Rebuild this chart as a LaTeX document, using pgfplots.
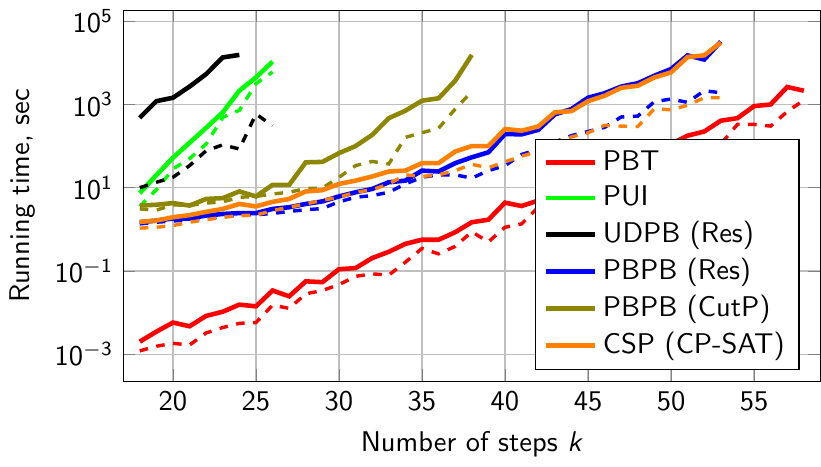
\documentclass[border=0pt]{standalone}
\usepackage{pgfplots}
\pgfplotsset{compat=1.18}
\usepackage{pgfplotstable}

\pgfplotstableread{
x y
18 0.0020
19 0.00347
20 0.00575
21 0.00468
22 0.00832
23 0.01047
24 0.0155
25 0.0141
26 0.0339
27 0.0245
28 0.0562
29 0.0537
30 0.110
31 0.117
32 0.204
33 0.288
34 0.447
35 0.562
36 0.562
37 0.851
38 1.48
39 1.70
40 4.37
41 3.63
42 4.90
43 7.08
44 10
45 15.8
46 22.4
47 35.5
48 50
49 76
50 112
51 178
52 224
53 407
54 468
55 912
56 1000
57 2630
58 2140
}\pbtS
\pgfplotstableread{
x y
18 0.0012
19 0.00155
20 0.00182
21 0.00166
22 0.00324
23 0.00437
24 0.0055
25 0.00575
26 0.0151
27 0.0126
28 0.0282
29 0.0339
30 0.0468
31 0.0741
32 0.0851
33 0.0794
34 0.162
35 0.347
36 0.257
37 0.389
38 0.871
39 0.501
40 1.12
41 1.35
42 3.39
43 4.79
44 6.3
45 8.9
46 12.6
47 17.8
48 25.1
49 35.5
50 50
51 70.8
52 89
53 112
54 331
55 331
56 302
57 676
58 1260
}\pbtD
\pgfplotstableread{
x y
18 7.4
19 20
20 52.5
21 120
22 275
23 646
24 2140
25 4470
26 10700
}\puiS
\pgfplotstableread{
x y
18 3.55
19 8.9
20 28.2
21 50
22 112
23 490
24 724
25 3160
26 6030
}\puiD
\pgfplotstableread{
x y
18 479
19 1200
20 1450
21 2690
22 5370
23 13500
24 15500
}\udpbS
\pgfplotstableread{
x y
18 10
19 13.5
20 17.8
21 33.9
22 77.6
23 107
24 85
25 589
26 309
}\udpbD
\pgfplotstableread{
x y
18 1.48
19 1.62
20 1.82
21 1.82
22 2.14
23 2.34
24 2.45
25 2.45
26 3.09
27 3.39
28 4.07
29 4.68
30 6.17
31 7.76
32 9.33
33 13.5
34 14.8
35 25.7
36 24.5
37 38.9
38 53.7
39 70.8
40 195
41 191
42 245
43 575
44 776
45 1450
46 1860
47 2690
48 3240
49 4900
50 7080
51 15100
52 12000
53 32400
}\resS
\pgfplotstableread{
x y
18 1.35
19 1.48
20 1.58
21 1.70
22 1.86
23 2.0
24 2.14
25 2.24
26 2.40
27 2.69
28 2.95
29 3.16
30 4.57
31 5.89
32 6.46
33 7.76
34 12.3
35 17.8
36 20.4
37 20.4
38 17.0
39 25.7
40 33.9
41 63
42 83
43 126
44 178
45 224
46 282
47 501
48 525
49 1170
50 1350
51 1120
52 2140
53 1910
}\resD
\pgfplotstableread{
x y
18 3.72
19 3.89
20 4.27
21 3.72
22 5.37
23 5.62
24 8.13
25 6.17
26 11.7
27 11.7
28 40.7
29 41.7
30 67.6
31 100
32 186
33 468
34 708
35 1230
36 1410
37 3720
38 15500
}\cutS
\pgfplotstableread{
x y
18 3.09
19 2.88
20 3.89
21 3.72
22 4.27
23 4.57
24 5.89
25 6.17
26 7.08
27 7.76
28 9.55
29 9.77
30 17.8
31 33.9
32 42.7
33 37.2
34 162
35 209
36 269
37 776
38 2040
}\cutD
\pgfplotstableread{
x y
18 1.51
19 1.62
20 1.95
21 2.19
22 2.63
23 3.09
24 4.07
25 3.55
26 4.57
27 5.37
28 8.13
29 8.71
30 12.3
31 14.8
32 18.6
33 24.5
34 25.7
35 38.9
36 38.9
37 74.1
38 100
39 100
40 257
41 234
42 295
43 646
44 692
45 1200
46 1620
47 2510
48 2820
49 4470
50 5890
51 13800
52 15100
53 30900
}\cspS
\pgfplotstableread{
x y
18 1.07
19 1.12
20 1.23
21 1.48
22 1.70
23 1.95
24 2.14
25 2.19
26 2.82
27 3.39
28 4.07
29 5.01
30 5.89
31 7.76
32 8.91
33 12.3
34 20.4
35 18.6
36 20.4
37 25.7
38 36.3
39 30.2
40 41.7
41 57.5
42 74.1
43 126
44 166
45 209
46 316
47 302
48 295
49 794
50 741
51 955
52 1450
53 1450
}\cspD

\begin{document}
\begin{tikzpicture}[font=\sffamily]
\begin{axis}[
  scale only axis,
  width=244.6pt, height=130.2pt,
  ymode=log,
  xmin=17, xmax=59,
  ymin=2.22e-4, ymax=1.84e5,
  xtick={20,25,30,35,40,45,50,55},
  xticklabels={20,25,30,35,40,45,50,55},
  ytick={1e-3,1e-1,1e1,1e3,1e5},
  yticklabels={$\mathsf{10^{-3}}$,$\mathsf{10^{-1}}$,$\mathsf{10^{1}}$,$\mathsf{10^{3}}$,$\mathsf{10^{5}}$},
  yminorticks=false,
  grid=major,
  major grid style={gray!50},
  xlabel={Number of steps \textit{k}},
  ylabel={Running time, sec},
  legend pos=south east,
  legend cell align=left,
  legend style={draw=black, fill=white},
  solid/.style={line width=1.6pt},
  dsh/.style={line width=1.2pt, dashed},
]
\addplot[red, solid] table {\pbtS};
\addlegendentry{PBT}
\addplot[red, dsh, forget plot] table {\pbtD};
\addplot[green, solid] table {\puiS};
\addlegendentry{PUI}
\addplot[green, dsh, forget plot] table {\puiD};
\addplot[black, solid] table {\udpbS};
\addlegendentry{UDPB (Res)}
\addplot[black, dsh, forget plot] table {\udpbD};
\addplot[blue, solid] table {\resS};
\addlegendentry{PBPB (Res)}
\addplot[blue, dsh, forget plot] table {\resD};
\addplot[olive, solid] table {\cutS};
\addlegendentry{PBPB (CutP)}
\addplot[olive, dsh, forget plot] table {\cutD};
\addplot[orange, solid] table {\cspS};
\addlegendentry{CSP (CP-SAT)}
\addplot[orange, dsh, forget plot] table {\cspD};
\end{axis}
\end{tikzpicture}
\end{document}
